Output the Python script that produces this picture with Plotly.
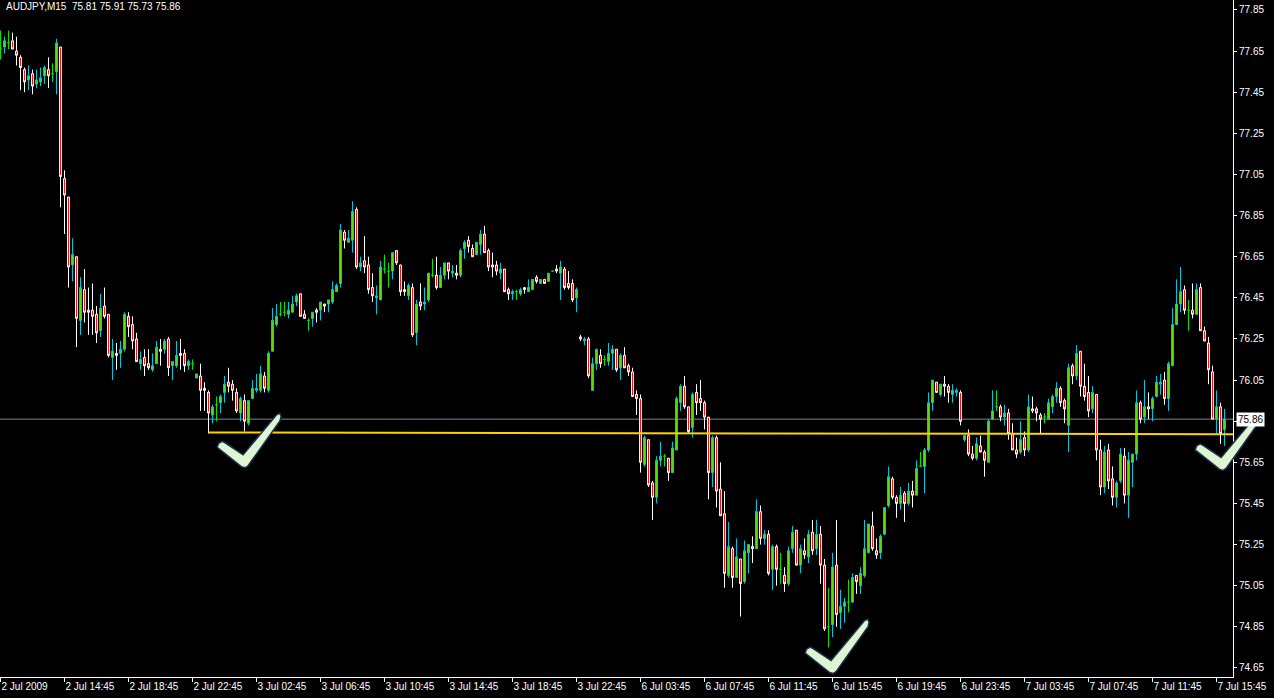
import plotly.graph_objects as go

symbol = "AUDJPY,M15"

opens = [
    77.66, 77.67, 77.69, 77.70, 77.65, 77.62, 77.56, 77.51, 77.54, 77.49, 77.50, 77.53, 77.56, 77.54, 77.55, 77.67,
    77.03, 76.94, 76.61, 76.65, 76.34, 76.49, 76.39, 76.39, 76.37, 76.29, 76.41, 76.37, 76.16, 76.18, 76.18, 76.20,
    76.36, 76.32, 76.25, 76.13, 76.16, 76.13, 76.10, 76.13, 76.20, 76.20, 76.25, 76.12, 76.12, 76.18, 76.18, 76.12,
    76.13, 76.06, 76.07, 76.01, 75.99, 75.88, 75.93, 75.94, 75.99, 76.04, 76.03, 75.99, 75.89, 75.95, 75.84, 75.96,
    76.00, 76.00, 76.07, 76.00, 76.19, 76.32, 76.37, 76.38, 76.37, 76.38, 76.43, 76.47, 76.37, 76.34, 76.35, 76.39,
    76.39, 76.42, 76.42, 76.43, 76.48, 76.52, 76.77, 76.72, 76.73, 76.88, 76.60, 76.63, 76.61, 76.50, 76.45, 76.44,
    76.59, 76.58, 76.58, 76.68, 76.61, 76.49, 76.46, 76.50, 76.28, 76.43, 76.42, 76.44, 76.56, 76.56, 76.50, 76.56,
    76.62, 76.57, 76.57, 76.56, 76.69, 76.73, 76.69, 76.66, 76.71, 76.76, 76.68, 76.61, 76.61, 76.57, 76.59, 76.49,
    76.47, 76.48, 76.47, 76.50, 76.48, 76.49, 76.55, 76.52, 76.54, 76.53, 76.58, 76.59, 76.57, 76.59, 76.52, 76.52,
    76.45, 76.26, 76.24, 76.25, 76.00, 76.13, 76.17, 76.15, 76.14, 76.18, 76.20, 76.11, 76.17, 76.12, 76.09, 75.98,
    75.96, 75.64, 75.76, 75.55, 75.48, 75.66, 75.68, 75.67, 75.60, 75.71, 75.94, 76.02, 75.92, 75.82, 75.99, 75.96,
    75.94, 75.87, 75.60, 75.77, 75.52, 75.40, 75.10, 75.23, 75.09, 75.18, 75.07, 75.21, 75.24, 75.23, 75.41, 75.28,
    75.30, 75.13, 75.24, 75.13, 75.10, 75.06, 75.23, 75.32, 75.15, 75.22, 75.19, 75.31, 75.23, 75.30, 75.15, 74.85,
    74.86, 75.15, 74.92, 74.95, 74.97, 74.97, 75.10, 75.05, 75.10, 75.21, 75.34, 75.22, 75.21, 75.30, 75.44, 75.57,
    75.48, 75.45, 75.50, 75.45, 75.51, 75.49, 75.63, 75.63, 75.71, 75.94, 76.04, 75.98, 76.03, 76.02, 75.98, 75.99,
    75.99, 75.76, 75.78, 75.69, 75.67, 75.73, 75.70, 75.65, 75.86, 75.92, 75.92, 75.87, 75.89, 75.79, 75.71, 75.70,
    75.77, 75.71, 75.91, 75.91, 75.88, 75.87, 75.86, 75.92, 75.97, 76.01, 75.95, 75.83, 76.12, 76.07, 76.19, 76.02,
    75.99, 75.91, 75.98, 75.71, 75.53, 75.71, 75.57, 75.48, 75.56, 75.68, 75.49, 75.65, 75.69, 75.94, 75.87, 75.92,
    75.91, 75.97, 76.03, 76.05, 75.96, 76.12, 76.32, 76.42, 76.49, 76.39, 76.39, 76.37, 76.50, 76.29, 76.23, 76.09,
    75.86, 75.92, 75.81,
]
highs = [
    77.75, 77.72, 77.75, 77.74, 77.72, 77.63, 77.57, 77.58, 77.56, 77.56, 77.57, 77.58, 77.62, 77.59, 77.71, 77.67,
    77.07, 76.94, 76.74, 76.65, 76.55, 76.59, 76.50, 76.52, 76.41, 76.47, 76.50, 76.37, 76.25, 76.23, 76.24, 76.38,
    76.38, 76.36, 76.28, 76.19, 76.20, 76.20, 76.18, 76.24, 76.25, 76.25, 76.26, 76.14, 76.24, 76.25, 76.20, 76.15,
    76.15, 76.08, 76.13, 76.04, 76.00, 75.93, 75.97, 75.98, 76.07, 76.11, 76.05, 76.01, 75.97, 75.98, 75.95, 76.05,
    76.08, 76.12, 76.09, 76.19, 76.40, 76.42, 76.43, 76.43, 76.43, 76.46, 76.47, 76.47, 76.39, 76.35, 76.38, 76.40,
    76.43, 76.42, 76.44, 76.53, 76.52, 76.81, 76.78, 76.78, 76.92, 76.89, 76.65, 76.75, 76.65, 76.57, 76.51, 76.63,
    76.66, 76.62, 76.67, 76.68, 76.61, 76.53, 76.52, 76.52, 76.44, 76.52, 76.50, 76.57, 76.64, 76.65, 76.60, 76.62,
    76.62, 76.61, 76.61, 76.69, 76.73, 76.75, 76.71, 76.72, 76.78, 76.80, 76.69, 76.67, 76.63, 76.62, 76.59, 76.50,
    76.49, 76.49, 76.50, 76.50, 76.54, 76.54, 76.56, 76.54, 76.54, 76.57, 76.58, 76.61, 76.63, 76.60, 76.58, 76.54,
    76.50, 76.27, 76.26, 76.26, 76.16, 76.20, 76.20, 76.17, 76.23, 76.22, 76.20, 76.18, 76.21, 76.13, 76.11, 76.00,
    75.98, 75.78, 75.76, 75.56, 75.68, 75.75, 75.69, 75.67, 75.75, 75.97, 76.03, 76.07, 75.92, 75.99, 76.03, 76.05,
    75.95, 75.87, 75.78, 75.78, 75.65, 75.51, 75.36, 75.24, 75.28, 75.18, 75.27, 75.25, 75.29, 75.47, 75.44, 75.32,
    75.32, 75.25, 75.25, 75.21, 75.14, 75.24, 75.34, 75.32, 75.25, 75.28, 75.32, 75.37, 75.37, 75.34, 75.18, 75.04,
    75.21, 75.37, 75.03, 74.99, 75.08, 75.11, 75.10, 75.14, 75.37, 75.35, 75.41, 75.28, 75.30, 75.43, 75.63, 75.58,
    75.49, 75.53, 75.51, 75.55, 75.56, 75.66, 75.70, 75.72, 75.99, 76.05, 76.04, 76.03, 76.07, 76.03, 76.03, 76.01,
    76.00, 75.78, 75.81, 75.73, 75.77, 75.78, 75.71, 75.86, 76.00, 76.00, 75.93, 75.93, 75.91, 75.84, 75.77, 75.85,
    75.80, 75.98, 75.97, 75.92, 75.89, 75.89, 75.96, 75.98, 76.04, 76.02, 75.96, 76.13, 76.13, 76.22, 76.19, 76.13,
    76.07, 76.02, 75.98, 75.76, 75.73, 75.74, 75.63, 75.56, 75.72, 75.72, 75.70, 75.69, 76.00, 75.95, 76.05, 75.99,
    75.97, 76.07, 76.08, 76.09, 76.14, 76.40, 76.54, 76.60, 76.51, 76.44, 76.52, 76.52, 76.52, 76.31, 76.26, 76.12,
    76.00, 75.94, 75.91,
]
lows = [
    77.61, 77.64, 77.66, 77.66, 77.58, 77.46, 77.45, 77.46, 77.44, 77.47, 77.48, 77.49, 77.47, 77.50, 77.44, 76.89,
    76.76, 76.50, 76.53, 76.21, 76.27, 76.33, 76.27, 76.27, 76.23, 76.26, 76.35, 76.16, 76.05, 76.10, 76.11, 76.19,
    76.26, 76.20, 76.14, 76.10, 76.07, 76.10, 76.09, 76.13, 76.12, 76.18, 76.07, 76.05, 76.11, 76.10, 76.09, 76.10,
    76.10, 76.06, 75.90, 75.90, 75.79, 75.84, 75.85, 75.89, 75.94, 75.99, 75.95, 75.89, 75.85, 75.80, 75.83, 75.96,
    75.99, 75.99, 75.99, 75.99, 76.19, 76.31, 76.36, 76.36, 76.35, 76.38, 76.41, 76.36, 76.35, 76.29, 76.31, 76.33,
    76.34, 76.38, 76.38, 76.42, 76.48, 76.50, 76.69, 76.72, 76.67, 76.59, 76.58, 76.57, 76.47, 76.43, 76.37, 76.44,
    76.57, 76.50, 76.54, 76.61, 76.46, 76.46, 76.44, 76.26, 76.22, 76.39, 76.39, 76.43, 76.55, 76.49, 76.50, 76.54,
    76.54, 76.55, 76.54, 76.55, 76.64, 76.67, 76.65, 76.66, 76.66, 76.67, 76.58, 76.55, 76.56, 76.54, 76.48, 76.44,
    76.44, 76.44, 76.46, 76.47, 76.48, 76.49, 76.52, 76.52, 76.52, 76.53, 76.58, 76.57, 76.44, 76.49, 76.49, 76.43,
    76.38, 76.24, 76.22, 76.06, 76.00, 76.10, 76.11, 76.12, 76.12, 76.10, 76.09, 76.05, 76.11, 76.07, 75.97, 75.88,
    75.60, 75.63, 75.53, 75.37, 75.45, 75.63, 75.63, 75.56, 75.60, 75.71, 75.90, 75.91, 75.79, 75.77, 75.88, 75.90,
    75.81, 75.47, 75.53, 75.43, 75.39, 75.04, 75.09, 75.04, 75.09, 74.90, 75.06, 75.11, 75.16, 75.23, 75.25, 75.25,
    75.10, 75.03, 75.05, 75.06, 75.02, 75.05, 75.21, 75.15, 75.11, 75.18, 75.16, 75.20, 75.20, 75.06, 74.83, 74.75,
    74.80, 74.85, 74.84, 74.87, 74.92, 74.97, 75.01, 75.01, 75.09, 75.21, 75.22, 75.18, 75.18, 75.30, 75.43, 75.47,
    75.38, 75.42, 75.36, 75.44, 75.43, 75.49, 75.63, 75.50, 75.70, 75.90, 75.99, 75.97, 75.97, 75.94, 75.94, 75.97,
    75.83, 75.75, 75.68, 75.66, 75.66, 75.70, 75.58, 75.65, 75.86, 75.90, 75.85, 75.83, 75.76, 75.71, 75.67, 75.69,
    75.68, 75.70, 75.89, 75.85, 75.79, 75.84, 75.86, 75.89, 75.94, 75.92, 75.84, 75.70, 76.03, 76.05, 75.97, 75.95,
    75.87, 75.89, 75.66, 75.49, 75.50, 75.52, 75.44, 75.43, 75.55, 75.45, 75.38, 75.53, 75.66, 75.84, 75.84, 75.86,
    75.85, 75.97, 75.98, 75.93, 75.90, 76.12, 76.32, 76.38, 76.37, 76.29, 76.35, 76.37, 76.29, 76.24, 76.03, 75.86,
    75.79, 75.74, 75.73,
]
closes = [
    77.66, 77.70, 77.69, 77.66, 77.63, 77.57, 77.50, 77.53, 77.48, 77.51, 77.52, 77.57, 77.53, 77.54, 77.69, 77.04,
    76.95, 76.60, 76.66, 76.35, 76.50, 76.38, 76.38, 76.36, 76.28, 76.40, 76.36, 76.17, 76.19, 76.17, 76.20, 76.37,
    76.31, 76.24, 76.14, 76.15, 76.12, 76.11, 76.12, 76.21, 76.19, 76.24, 76.11, 76.14, 76.17, 76.17, 76.12, 76.14,
    76.13, 76.08, 76.00, 76.00, 75.89, 75.92, 75.93, 75.97, 76.03, 76.02, 76.00, 75.90, 75.96, 75.85, 75.95, 76.01,
    76.01, 76.08, 76.01, 76.18, 76.34, 76.36, 76.37, 76.38, 76.39, 76.42, 76.46, 76.36, 76.35, 76.34, 76.38, 76.38,
    76.43, 76.41, 76.44, 76.49, 76.51, 76.78, 76.73, 76.74, 76.87, 76.60, 76.62, 76.60, 76.49, 76.46, 76.46, 76.60,
    76.59, 76.58, 76.67, 76.62, 76.48, 76.48, 76.51, 76.27, 76.42, 76.41, 76.43, 76.57, 76.56, 76.50, 76.56, 76.62,
    76.58, 76.58, 76.56, 76.68, 76.72, 76.70, 76.65, 76.72, 76.76, 76.67, 76.60, 76.60, 76.58, 76.59, 76.48, 76.47,
    76.48, 76.48, 76.49, 76.49, 76.50, 76.54, 76.53, 76.54, 76.52, 76.57, 76.58, 76.58, 76.60, 76.50, 76.50, 76.44,
    76.49, 76.25, 76.25, 76.07, 76.13, 76.20, 76.13, 76.15, 76.18, 76.20, 76.10, 76.17, 76.11, 76.09, 75.97, 75.96,
    75.65, 75.77, 75.54, 75.48, 75.66, 75.68, 75.68, 75.60, 75.72, 75.96, 76.02, 75.92, 75.80, 75.98, 75.94, 75.94,
    75.87, 75.60, 75.77, 75.51, 75.39, 75.11, 75.24, 75.09, 75.19, 75.06, 75.22, 75.25, 75.23, 75.41, 75.28, 75.30,
    75.11, 75.24, 75.13, 75.13, 75.06, 75.22, 75.31, 75.15, 75.23, 75.20, 75.30, 75.22, 75.30, 75.15, 74.84, 74.85,
    75.14, 74.91, 74.95, 74.97, 74.97, 75.09, 75.07, 75.11, 75.23, 75.35, 75.23, 75.20, 75.29, 75.43, 75.58, 75.48,
    75.45, 75.49, 75.45, 75.51, 75.49, 75.62, 75.63, 75.71, 75.94, 76.05, 75.99, 76.03, 76.02, 75.99, 76.00, 76.00,
    75.85, 75.78, 75.69, 75.67, 75.74, 75.70, 75.66, 75.85, 75.90, 75.92, 75.87, 75.89, 75.79, 75.71, 75.69, 75.76,
    75.71, 75.92, 75.90, 75.89, 75.86, 75.87, 75.94, 75.97, 76.01, 75.94, 75.91, 76.11, 76.07, 76.18, 76.02, 75.97,
    75.90, 75.99, 75.71, 75.53, 75.70, 75.56, 75.48, 75.55, 75.69, 75.49, 75.66, 75.69, 75.94, 75.86, 75.92, 75.91,
    75.96, 76.04, 76.04, 75.96, 76.13, 76.32, 76.42, 76.48, 76.39, 76.39, 76.37, 76.49, 76.29, 76.24, 76.10, 75.86,
    75.92, 75.79, 75.86,
]

tick_bars = [0, 16, 32, 48, 64, 80, 96, 112, 128, 144, 160, 176, 192, 208, 224, 240, 256, 272, 288, 304]
tick_labels = [
    "2 Jul 2009", "2 Jul 14:45", "2 Jul 18:45", "2 Jul 22:45", "3 Jul 02:45", "3 Jul 06:45",
    "3 Jul 10:45", "3 Jul 14:45", "3 Jul 18:45", "3 Jul 22:45", "6 Jul 03:45", "6 Jul 07:45",
    "6 Jul 11:45", "6 Jul 15:45", "6 Jul 19:45", "6 Jul 23:45", "7 Jul 03:45", "7 Jul 07:45",
    "7 Jul 11:45", "7 Jul 15:45",
]
price_ticks = [74.65, 74.85, 75.05, 75.25, 75.45, 75.65, 75.85, 76.05, 76.25, 76.45, 76.65, 76.85,
               77.05, 77.25, 77.45, 77.65, 77.85]
bid_price = 75.86
trend_bar0, trend_price0 = 52, 75.795
trend_bar1, trend_price1 = 308.2, 75.787
check_points = [(60.9, 75.626), (207.9, 74.625), (305.4, 75.613)]  # bar, price of each check's bottom tip

X_RANGE = [-0.125, 308.125]
Y_RANGE = [74.6059, 77.8986]
FONT = "Liberation Sans, Arial, sans-serif"

n = len(opens)
groups = {"bull": [], "bear": [], "doji": []}
for i in range(n):
    if closes[i] > opens[i]:
        groups["bull"].append(i)
    elif closes[i] < opens[i]:
        groups["bear"].append(i)
    else:
        groups["doji"].append(i)

styles = {
    "bull": ("#00C8DC", "#5CE000"),
    "bear": ("#FFFFFF", "#FF0000"),
    "doji": ("#00E600", "#00E600"),
}

fig = go.Figure()
for key in ["bull", "bear", "doji"]:
    ids = groups[key]
    line_c, fill_c = styles[key]
    fig.add_trace(go.Candlestick(
        x=ids,
        open=[opens[i] for i in ids],
        high=[highs[i] for i in ids],
        low=[lows[i] for i in ids],
        close=[closes[i] for i in ids],
        increasing=dict(line=dict(color=line_c, width=1), fillcolor=fill_c),
        decreasing=dict(line=dict(color=line_c, width=1), fillcolor=fill_c),
        whiskerwidth=0,
        showlegend=False,
        hoverinfo="skip",
    ))

shapes = []
shapes.append(dict(type="line", xref="paper", x0=0, x1=1, yref="y", y0=bid_price, y1=bid_price,
                   line=dict(color="#7C8796", width=1), layer="below"))
shapes.append(dict(type="line", xref="x", yref="y", x0=trend_bar0, y0=trend_price0,
                   x1=trend_bar1, y1=trend_price1, line=dict(color="#FFD200", width=2)))

# check mark outline in pixels (y up) relative to its bottom tip
tmpl = [(-27.0, 20.0), (-25.5, 24.0), (-22.0, 26.0), (-19.0, 24.5), (-1.0, 12.5), (32.5, 52.5),
        (35.5, 54.0), (37.0, 51.0), (36.0, 46.5), (4.0, 1.5), (1.0, -0.5), (-2.5, 0.5)]
path = "M " + " L ".join(f"{x},{y}" for x, y in tmpl) + " Z"
for bx, py in check_points:
    xp = (bx - X_RANGE[0]) / (X_RANGE[1] - X_RANGE[0])
    yp = (py - Y_RANGE[0]) / (Y_RANGE[1] - Y_RANGE[0])
    shapes.append(dict(type="path", xref="paper", yref="paper", xsizemode="pixel", ysizemode="pixel",
                       xanchor=xp, yanchor=yp, path=path,
                       fillcolor="#DDF5D3", line=dict(color="#1E2F4A", width=1.5)))

annotations = [
    dict(xref="paper", yref="paper", x=4 / 1233, y=1 - 7 / 677, xanchor="left", yanchor="middle",
         text=f"{symbol}  {opens[-1]:.2f} {highs[-1]:.2f} {lows[-1]:.2f} {closes[-1]:.2f}",
         showarrow=False, font=dict(family=FONT, size=10, color="white")),
    dict(xref="paper", yref="y", x=1 + 3 / 1233, y=bid_price, xanchor="left", yanchor="middle",
         text=f"{bid_price:.2f}", showarrow=False, bgcolor="white", borderpad=1,
         font=dict(family=FONT, size=10, color="black")),
]

fig.update_layout(
    width=1274, height=698,
    margin=dict(l=0, r=41, t=0, b=21, autoexpand=False),
    paper_bgcolor="black", plot_bgcolor="black",
    font=dict(family=FONT, size=10, color="white"),
    boxgap=0.3,
    hovermode=False,
    showlegend=False,
    shapes=shapes,
    annotations=annotations,
    xaxis=dict(
        range=X_RANGE, rangeslider=dict(visible=False),
        showgrid=False, zeroline=False, showline=True, linecolor="white", linewidth=1,
        ticks="outside", ticklen=4, tickcolor="white",
        tickvals=tick_bars, ticktext=tick_labels, ticklabelposition="outside right",
        tickfont=dict(family=FONT, size=10, color="white"),
    ),
    yaxis=dict(
        range=Y_RANGE, side="right",
        showgrid=False, zeroline=False, showline=True, linecolor="white", linewidth=1,
        ticks="outside", ticklen=3, tickcolor="white",
        tickvals=price_ticks, ticktext=[f"{p:.2f}" for p in price_ticks],
        tickfont=dict(family=FONT, size=10, color="white"),
    ),
)

fig.write_html("out.html", config={"displayModeBar": False},
               post_script="document.body.style.margin='0px';document.body.style.background='black';")
